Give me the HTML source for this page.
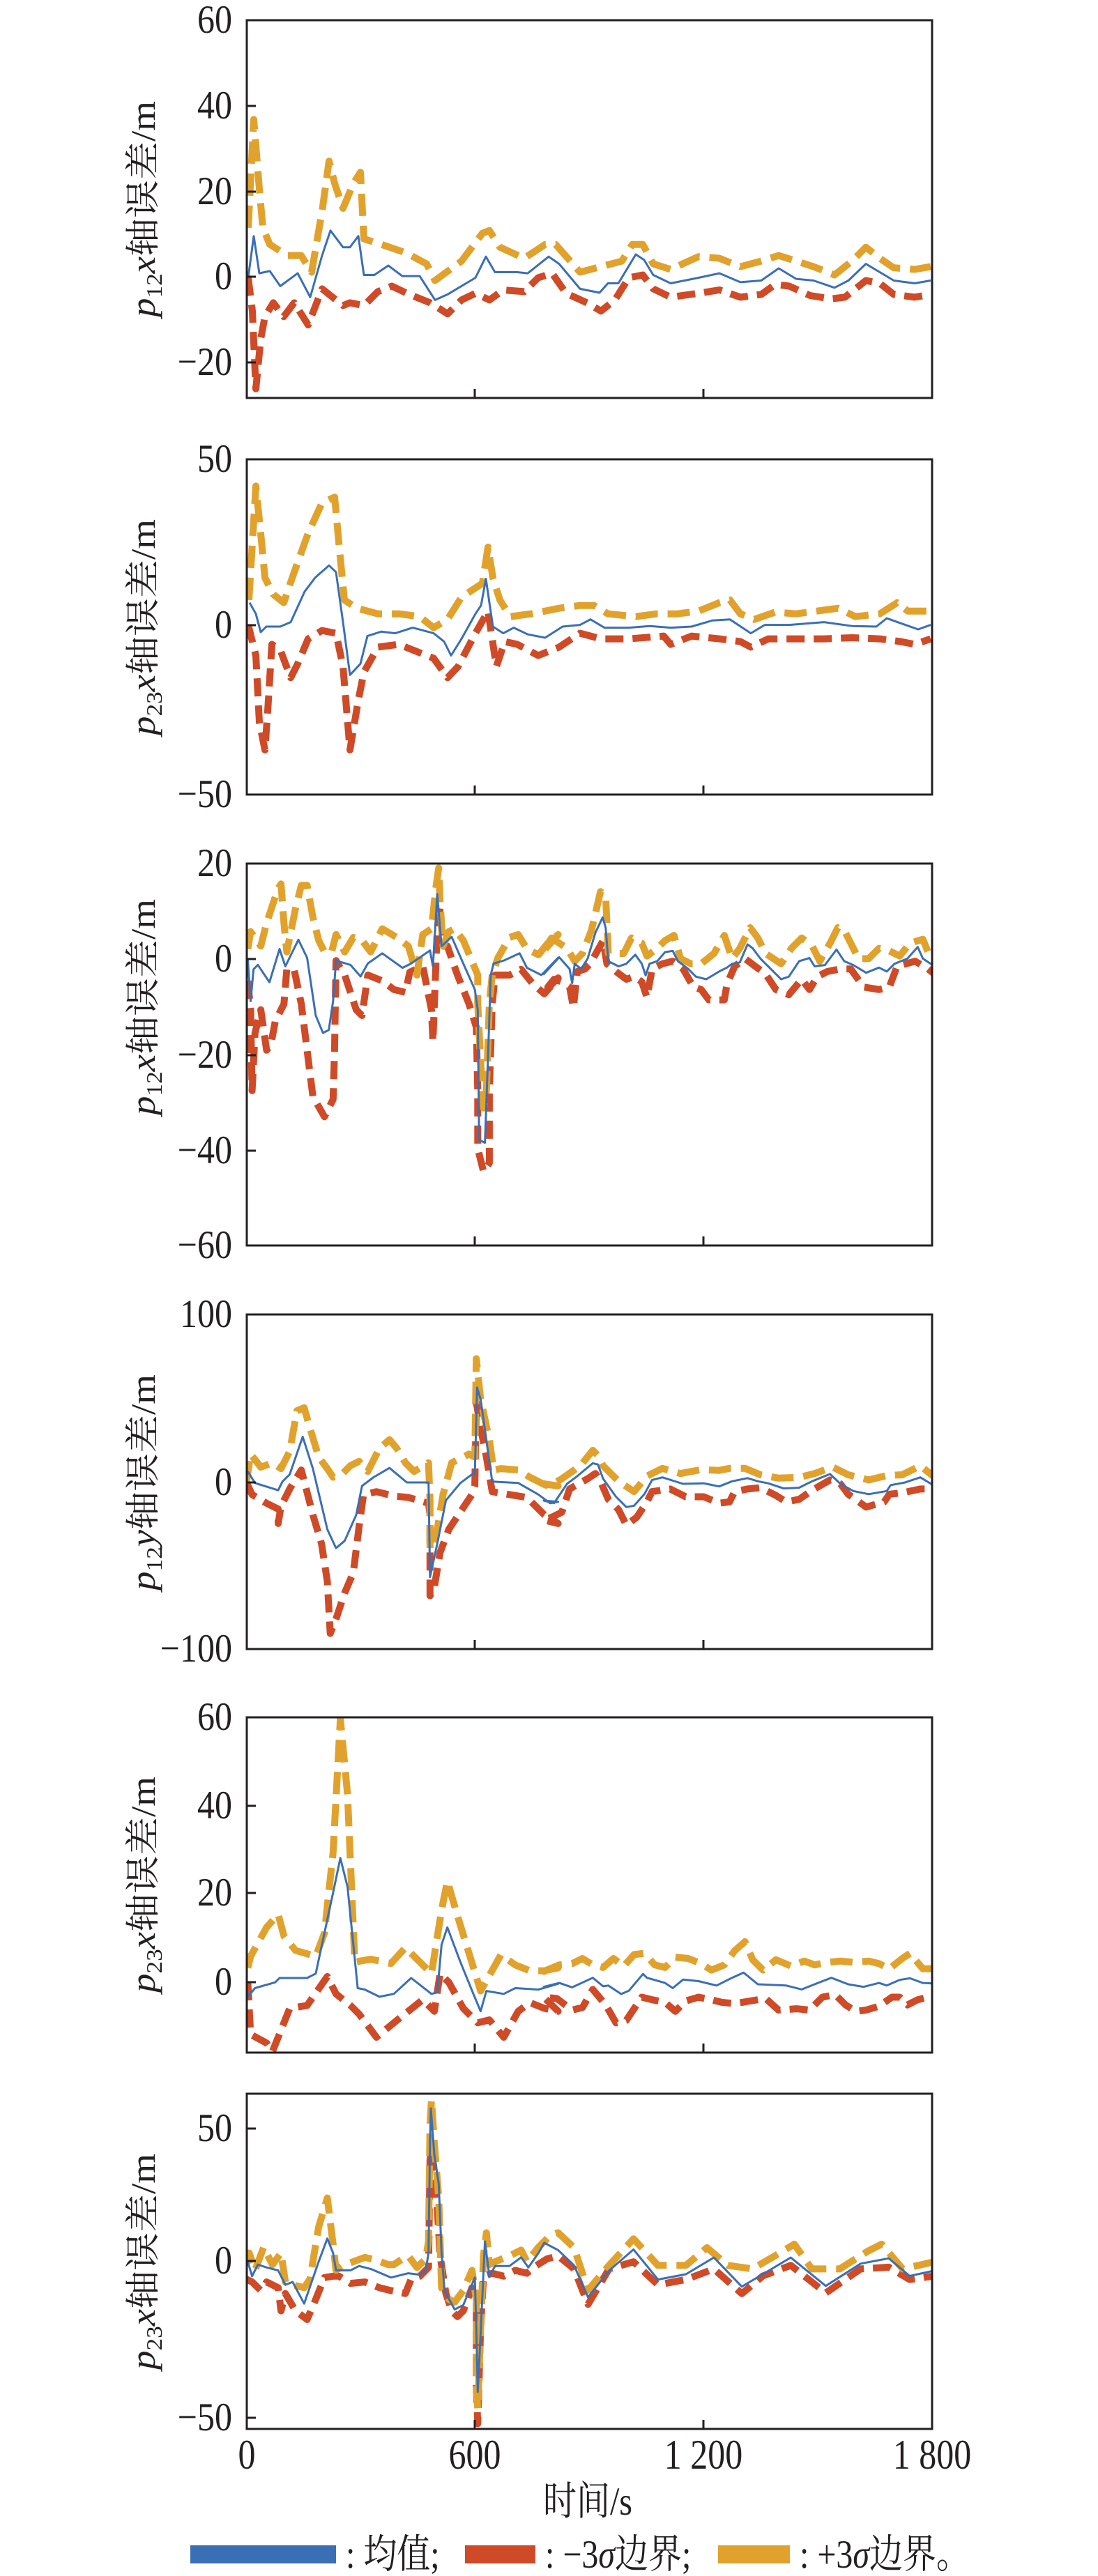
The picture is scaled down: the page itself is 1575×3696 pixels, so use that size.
<!DOCTYPE html>
<html><head><meta charset="utf-8">
<style>
html,body{margin:0;padding:0;background:#fff;}
svg{display:block;}
text{font-family:"Liberation Serif","Noto Serif CJK SC","Noto Sans CJK SC",serif;fill:#231f20;}
</style></head>
<body>
<svg id="s" width="1575" height="3696" viewBox="0 0 1575 3696" xmlns="http://www.w3.org/2000/svg"></svg>
<script>
const NS="http://www.w3.org/2000/svg";
const svg=document.getElementById('s');
function el(tag,attrs,txt){const e=document.createElementNS(NS,tag);for(const k in attrs)e.setAttribute(k,attrs[k]);if(txt!==undefined)e.textContent=txt;svg.appendChild(e);return e;}
const L=354,R=1337;
const panels=[
 {t:29,b:571,ticks:[[60,29,0],[40,152,1],[20,275,1],[0,397,1],['−20',520,1]],lab:["12","x"],ly:300},
 {t:659,b:1140,ticks:[[50,659,0],[0,897,1],['−50',1140,0]],lab:["23","x"],ly:900},
 {t:1239,b:1787,ticks:[[20,1239,0],[0,1376,1],['−20',1514,1],['−40',1651,1],['−60',1787,0]],lab:["12","x"],ly:1445},
 {t:1886,b:2366,ticks:[[100,1886,0],[0,2127,1],['−100',2366,0]],lab:["12","y"],ly:2127},
 {t:2464,b:2945,ticks:[[60,2464,0],[40,2591,1],[20,2716,1],[0,2844,1]],lab:["23","x"],ly:2704},
 {t:3004,b:3485,ticks:[[50,3054,1],[0,3244,1],['−50',3469,1]],lab:["23","x"],ly:3245}
];
const Z1=p=>[p[0]+2,p[1]*0.797];
const ZS=(x0,y0,s)=>p=>[x0+p[0]/s,y0+p[1]/s];
const Z5=ZS(150,1150,2.41),Z6=ZS(150,1800,2.41),Z7=ZS(150,2450,2.41),Z8=ZS(150,3050,2.41);
const Z9=ZS(780,1220,2.703),Z10=ZS(780,1870,2.703),Z11=ZS(780,2440,2.703);
const Z2=p=>[354+(p[0]-352)*1.003,2900+p[1]*0.5077];
function P(s){return s.trim().split(/\)\s*,?\s*\(/).map(q=>q.replace(/[()]/g,'').split(',').map(Number));}
function mk(parts){let out=[];parts.forEach(([f,s])=>{P(s).forEach(p=>out.push(f(p)));});return out;}
const data=[
 {blue:mk([[Z1,"(354,500),(362,425),(370,492),(385,488),(400,515),(425,492),(443,535),(460,460),(472,415),(490,445),(500,445),(512,425),(520,495),(535,495),(555,478),(575,497),(600,497),(622,540),(640,530),(680,500),(695,462),(708,490),(740,490),(755,492),(785,462),(800,475),(830,520),(858,527),(870,510),(885,510),(910,458),(922,468),(935,495),(960,510),(1000,500),(1030,492),(1060,508),(1090,505),(1115,483),(1140,502),(1165,505),(1195,518),(1215,505),(1240,475),(1260,490),(1280,505),(1310,510),(1333,505)"]]),
  yel:mk([[Z1,"(354,410),(362,215),(370,340),(375,410),(385,440),(410,460),(430,460),(445,490),(460,380),(470,290),(478,330),(490,375),(505,330),(515,310),(520,430),(545,440),(580,455),(610,475),(622,505),(660,470),(690,420),(700,415),(715,445),(750,465),(780,440),(795,440),(830,490),(860,480),(890,470),(905,440),(920,440),(935,475),(960,485),(1000,462),(1030,465),(1060,480),(1090,470),(1115,460),(1140,470),(1165,480),(1195,495),(1220,470),(1240,445),(1260,465),(1280,482),(1310,485),(1333,480)"]]),
  red:mk([[Z1,"(354,500),(360,560),(365,700),(372,610),(378,570),(390,545),(405,570),(420,545),(440,585),(460,520),(470,530),(490,550),(500,545),(520,550),(540,525),(560,515),(585,530),(615,545),(640,565),(660,540),(680,528),(700,540),(720,522),(750,525),(770,500),(790,492),(810,528),(840,545),(860,560),(880,540),(900,500),(920,495),(935,520),(960,535),(1000,528),(1030,522),(1060,535),(1090,530),(1110,512),(1130,515),(1160,532),(1190,538),(1210,535),(1240,505),(1260,510),(1280,530),(1310,535),(1333,530)"]])},
 {blue:mk([[Z1,"(356,1085),(365,1105),(372,1138),(380,1128),(400,1128),(415,1120),(435,1065),(450,1040),(470,1018),(480,1030),(490,1120),(500,1215),(515,1195),(525,1145),(545,1137),(565,1140),(590,1130),(620,1140),(635,1155),(645,1180),(660,1150),(680,1105),(688,1090),(695,1042),(705,1128),(720,1140),(735,1130),(755,1142),(780,1148),(805,1128),(830,1125),(845,1115),(865,1130),(900,1130),(930,1127),(960,1130),(990,1128),(1020,1117),(1045,1115),(1075,1140),(1095,1125),(1130,1125),(1180,1120),(1220,1127),(1255,1128),(1270,1113),(1290,1122),(1315,1133),(1333,1125)"]]),
  yel:mk([[Z1,"(355,1080),(365,875),(372,960),(378,1040),(390,1070),(405,1085),(420,1030),(440,960),(460,905),(478,895),(485,990),(492,1080),(510,1095),(540,1105),(570,1105),(600,1110),(620,1130),(640,1115),(660,1075),(690,1050),(698,985),(705,1040),(715,1080),(730,1110),(760,1105),(800,1095),(830,1090),(850,1090),(870,1105),(910,1110),(940,1105),(970,1105),(1000,1100),(1030,1085),(1045,1080),(1060,1105),(1080,1115),(1110,1102),(1140,1105),(1170,1100),(1200,1095),(1225,1110),(1260,1105),(1285,1085),(1300,1100),(1333,1100)"]]),
  red:mk([[Z1,"(354,1125),(365,1180),(370,1300),(378,1350),(382,1280),(388,1160),(400,1170),(415,1220),(425,1195),(440,1150),(460,1135),(480,1140),(490,1200),(500,1350),(512,1260),(520,1210),(540,1165),(570,1160),(600,1175),(620,1185),(640,1220),(655,1200),(680,1140),(698,1100),(710,1200),(722,1155),(740,1160),(770,1180),(800,1165),(830,1140),(860,1150),(900,1150),(950,1145),(960,1160),(990,1145),(1030,1150),(1060,1155),(1075,1165),(1100,1150),(1140,1150),(1180,1150),(1220,1148),(1260,1150),(1290,1155),(1310,1160),(1333,1150)"]])},
 {blue:mk([[Z5,"(495,545),(505,690),(515,580),(530,565),(570,625),(605,510),(625,570),(670,478),(700,540),(730,740),(755,800),(775,790),(790,690),(800,550),(850,565),(885,605),(910,560),(960,525),(1030,575),(1060,560),(1125,515),(1135,570),(1150,320),(1165,500),(1200,468),(1240,560),(1280,650),(1290,720),(1295,1170),(1315,1180),(1325,900),(1335,600),(1345,560),(1380,550),(1435,525),(1460,575),(1510,600),(1568,540)"],[Z9,"(0,480),(60,415),(100,460),(110,515),(120,440),(145,460),(170,420),(200,320),(228,260),(240,300),(250,430),(290,450),(320,440),(355,405),(380,440),(395,485),(410,440),(440,430),(470,395),(500,390),(520,430),(560,460),(590,490),(630,500),(680,470),(710,455),(730,440),(760,435),(790,365),(810,380),(840,420),(880,460),(920,500),(950,490),(990,430),(1030,418),(1050,450),(1090,445),(1135,385),(1165,430),(1200,445),(1250,475),(1300,455),(1330,470),(1360,440),(1410,420),(1450,375),(1470,420),(1515,450)"]]),
  yel:mk([[Z5,"(495,510),(505,450),(540,500),(560,420),(600,300),(610,285),(620,420),(630,520),(660,370),(680,290),(700,290),(720,400),(740,480),(760,520),(785,520),(800,460),(830,520),(860,470),(890,480),(920,520),(960,440),(1010,470),(1050,500),(1080,600),(1100,460),(1130,440),(1145,300),(1155,230),(1160,350),(1170,500),(1190,450),(1210,440),(1240,480),(1290,600),(1290,700),(1300,900),(1310,1060),(1320,1000),(1330,700),(1340,600),(1360,540),(1400,470),(1430,460),(1460,510),(1500,530),(1540,480),(1568,460)"],[Z9,"(0,390),(30,340),(60,360),(90,380),(120,430),(150,400),(185,310),(220,160),(240,180),(250,400),(310,400),(340,340),(380,360),(400,410),(440,380),(470,350),(505,330),(530,420),(570,440),(610,440),(660,400),(700,330),(730,420),(760,380),(800,300),(830,340),(860,400),(920,440),(960,380),(1000,340),(1040,370),(1070,430),(1110,360),(1140,300),(1170,320),(1220,420),(1260,420),(1300,380),(1340,390),(1380,410),(1420,360),(1470,345),(1500,420),(1515,420)"]]),
  red:mk([[Z5,"(495,620),(505,720),(510,1000),(520,800),(540,720),(560,860),(575,840),(590,760),(620,700),(630,580),(655,580),(680,700),(700,860),(720,1020),(760,1090),(790,1030),(795,860),(800,550),(830,600),(870,720),(890,740),(910,600),(960,620),(1000,650),(1040,660),(1055,590),(1100,570),(1130,720),(1135,830),(1150,440),(1160,370),(1170,500),(1185,500),(1220,600),(1260,700),(1285,780),(1290,1000),(1290,1200),(1310,1280),(1330,1250),(1330,1000),(1340,700),(1350,600),(1400,600),(1440,580),(1480,630),(1520,665),(1568,610)"],[Z9,"(0,550),(40,500),(70,510),(100,530),(115,610),(130,470),(160,460),(180,440),(230,350),(245,440),(280,470),(320,500),(350,490),(380,510),(400,570),(420,460),(460,440),(500,430),(540,460),(580,530),(610,540),(640,580),(700,580),(710,520),(740,450),(780,420),(820,450),(860,480),(900,540),(950,560),(1000,500),(1030,540),(1060,490),(1100,470),(1150,460),(1190,460),(1240,530),(1300,540),(1340,530),(1370,450),(1440,430),(1490,460),(1515,480)"]])},
 {blue:mk([[Z6,"(495,750),(520,790),(600,815),(615,785),(640,760),(685,630),(720,740),(770,950),(800,1015),(830,990),(870,900),(890,800),(930,770),(985,738),(1045,788),(1120,788),(1125,1115),(1150,1000),(1180,850),(1230,790),(1270,760),(1280,760),(1288,460),(1300,500),(1340,785),(1430,790),(1500,830),(1540,860),(1568,855)"],[Z10,"(0,765),(40,775),(90,700),(130,670),(190,620),(210,625),(230,680),(280,750),(320,790),(350,785),(390,740),(420,685),(460,675),(540,700),(620,698),(680,710),(730,690),(790,678),(830,690),(870,698),(930,718),(990,715),(1040,690),(1110,662),(1150,700),(1200,728),(1260,740),(1330,728),(1345,705),(1400,695),(1460,675),(1510,705)"]]),
  yel:mk([[Z6,"(490,790),(505,690),(540,735),(580,720),(610,740),(640,680),(665,540),(690,530),(710,600),(740,700),(770,740),(790,770),(820,760),(850,730),(880,715),(910,750),(950,670),(985,640),(1010,670),(1040,720),(1070,750),(1120,720),(1125,850),(1125,1020),(1150,950),(1170,830),(1200,720),(1260,690),(1280,700),(1285,360),(1300,500),(1330,640),(1345,745),(1370,740),(1430,745),(1470,770),(1530,800),(1568,800)"],[Z10,"(0,700),(20,710),(70,680),(120,645),(150,620),(190,570),(210,590),(230,630),(290,690),(350,730),(400,670),(460,640),(530,660),(610,645),(680,648),(720,640),(780,640),(840,665),(910,678),(990,675),(1050,660),(1120,635),(1180,665),(1260,685),(1330,668),(1390,665),(1460,630),(1510,670)"]]),
  red:mk([[Z6,"(490,787),(510,830),(560,860),(600,880),(600,930),(610,870),(640,810),(680,745),(720,900),(750,1000),(770,1130),(780,1310),(800,1260),(830,1170),(860,1100),(880,940),(895,830),(940,820),(1000,835),(1050,840),(1120,860),(1125,900),(1125,1180),(1140,1150),(1160,1030),(1190,950),(1230,890),(1270,830),(1280,800),(1285,510),(1300,600),(1320,700),(1340,820),(1400,830),(1460,840),(1520,900),(1568,930)"],[Z10,"(0,840),(30,830),(70,810),(100,720),(170,680),(200,660),(220,690),(250,760),(290,800),(320,860),(360,830),(400,770),(420,730),(490,720),(550,750),(620,750),(680,775),(720,770),(740,730),(790,720),(840,715),(900,745),(940,770),(990,760),(1040,725),(1110,685),(1150,700),(1180,740),(1250,790),(1320,770),(1340,740),(1390,735),(1460,720),(1510,720)"]])},
 {blue:mk([[Z7,"(495,1000),(520,970),(590,950),(605,935),(700,935),(730,920),(790,640),(815,520),(840,620),(875,970),(900,975),(950,1000),(1000,990),(1060,935),(1130,990),(1150,985),(1165,820),(1185,760),(1230,880),(1275,990),(1300,1050),(1320,980),(1380,990),(1420,970),(1500,975),(1568,955)"],[Z11,"(0,1110),(60,1095),(110,1112),(190,1075),(230,1108),(250,1105),(300,1138),(330,1125),(385,1060),(400,1075),(470,1095),(500,1115),(540,1082),(600,1088),(670,1105),(730,1075),(775,1055),(830,1100),(940,1105),(1000,1120),(1050,1100),(1115,1075),(1180,1100),(1240,1110),(1300,1095),(1330,1105),(1380,1083),(1420,1077),(1470,1095),(1510,1097)"]]),
  yel:mk([[Z7,"(495,900),(505,860),(560,760),(600,715),(620,790),(660,840),(730,860),(760,780),(790,500),(815,40),(840,300),(865,880),(920,870),(990,885),(1040,830),(1090,880),(1130,920),(1165,700),(1185,600),(1220,720),(1260,850),(1300,980),(1370,855),(1420,890),(1470,910),(1520,910),(1568,900)"],[Z11,"(0,1050),(60,1025),(110,1020),(150,1000),(190,1025),(230,1035),(270,1000),(310,1030),(350,985),(390,980),(430,1025),(470,1035),(510,995),(560,1000),(610,1020),(650,1045),(700,1025),(740,970),(780,935),(810,1005),(850,1045),(900,1005),(960,1030),(1010,1010),(1050,1025),(1100,1015),(1150,1010),(1200,1015),(1260,1010),(1300,1020),(1340,1040),(1390,1000),(1420,980),(1470,1040),(1510,1040)"]]),
  red:mk([[Z7,"(495,950),(505,1130),(560,1160),(580,1190),(640,1040),(700,1030),(770,930),(800,990),(850,1030),(880,1060),(940,1140),(1000,1090),(1100,1010),(1140,1050),(1160,920),(1190,950),(1240,1040),(1290,1090),(1330,1080),(1380,1140),(1430,1050),(1470,1020),(1520,1040),(1568,1050)"],[Z11,"(0,1150),(50,1155),(110,1200),(150,1190),(190,1120),(240,1180),(280,1250),(320,1240),(350,1195),(380,1150),(420,1160),(470,1170),(510,1205),(550,1165),(600,1150),(650,1160),(690,1170),(740,1175),(800,1165),(860,1155),(910,1200),(980,1195),(1030,1200),(1080,1150),(1130,1140),(1170,1180),(1210,1205),(1250,1200),(1300,1185),(1350,1150),(1380,1150),(1410,1180),(1450,1160),(1510,1145)"]])},
 {blue:mk([[Z8,"(495,470),(510,520),(530,480),(560,490),(600,500),(625,550),(650,540),(690,615),(740,470),(770,390),(790,440),(800,500),(850,500),(880,485),(920,495),(990,525),(1050,510),(1090,515),(1110,500),(1120,440),(1125,60),(1128,-60),(1140,100),(1155,200),(1165,440),(1175,570),(1210,635),(1240,620),(1280,525),(1285,700),(1290,920),(1300,720),(1315,400),(1330,520),(1350,485),(1400,485),(1440,455),(1465,490),(1500,440),(1520,405),(1568,430)"],[Z2,"(820,690),(840,780),(870,705),(905,645),(940,730),(980,715),(1020,668),(1060,750),(1090,715),(1130,668),(1180,748),(1230,685),(1270,670),(1300,720),(1335,705)"]]),
  yel:mk([[Z8,"(490,480),(500,440),(520,500),(550,420),(580,480),(610,440),(625,540),(650,550),(690,560),(710,530),(740,350),(770,250),(790,410),(800,500),(830,480),(860,470),(900,455),(940,465),(980,480),(1000,480),(1030,460),(1050,450),(1080,490),(1110,460),(1120,400),(1125,0),(1130,-90),(1140,60),(1155,250),(1160,400),(1165,560),(1190,600),(1210,610),(1240,570),(1270,500),(1285,600),(1285,900),(1290,980),(1300,700),(1310,450),(1320,370),(1330,480),(1350,470),(1400,450),(1440,430),(1460,470),(1500,420),(1540,380),(1568,370)"],[Z2,"(820,640),(840,760),(870,690),(905,615),(940,690),(980,690),(1010,640),(1040,690),(1075,700),(1110,660),(1135,630),(1160,700),(1200,700),(1240,650),(1260,630),(1290,700),(1335,680)"]]),
  red:mk([[Z8,"(490,530),(510,540),(540,570),(560,540),(600,560),(610,640),(625,580),(660,640),(700,670),(730,600),(760,525),(790,520),(810,520),(850,545),(900,540),(950,560),(990,570),(1040,580),(1060,530),(1090,520),(1120,490),(1125,120),(1130,80),(1145,200),(1160,450),(1180,580),(1200,640),(1220,660),(1240,640),(1270,560),(1285,600),(1285,900),(1290,1030),(1300,700),(1310,520),(1340,510),(1380,520),(1420,500),(1460,510),(1490,485),(1530,460),(1568,450)"],[Z2,"(820,700),(840,800),(870,700),(905,680),(940,745),(980,730),(1020,700),(1060,770),(1090,720),(1130,690),(1180,768),(1230,700),(1270,695),(1300,730),(1335,720)"]])}
];
const BLUE="#3a6fb5",RED="#cf4a27",YEL="#e1a22d";
function path(pts){return pts.map((p,i)=>(i?'L':'M')+p[0].toFixed(1)+' '+p[1].toFixed(1)).join(' ');}
panels.forEach((pn,i)=>{
  const id='c'+i;
  const cp=el('clipPath',{id:id});
  const r=document.createElementNS(NS,'rect');
  r.setAttribute('x',L);r.setAttribute('y',pn.t);r.setAttribute('width',R-L);r.setAttribute('height',pn.b-pn.t);cp.appendChild(r);
  const d=data[i];
  el('path',{d:path(d.red),fill:'none',stroke:RED,'stroke-width':10,'stroke-dasharray':'26 13','clip-path':`url(#${id})`,'stroke-linejoin':'round'});
  el('path',{d:path(d.yel),fill:'none',stroke:YEL,'stroke-width':10,'stroke-dasharray':'32 14','clip-path':`url(#${id})`,'stroke-linejoin':'round'});
  el('path',{d:path(d.blue),fill:'none',stroke:BLUE,'stroke-width':3,'clip-path':`url(#${id})`,'stroke-linejoin':'round'});
  el('rect',{x:L,y:pn.t,width:R-L,height:pn.b-pn.t,fill:'none',stroke:'#231f20','stroke-width':3});
  [681,1009].forEach(x=>el('line',{x1:x,x2:x,y1:pn.b,y2:pn.b-13,stroke:'#231f20','stroke-width':3}));
  pn.ticks.forEach(([v,y,tk])=>{
    if(tk)el('line',{x1:L,x2:L+13,y1:y,y2:y,stroke:'#231f20','stroke-width':3});
    el('text',{x:333,y:y+18,'text-anchor':'end','font-size':50,transform:`translate(0 ${-(y+18)*0.15}) scale(1 1.15)`},String(v));
  });
  const g=el('text',{transform:`translate(222 ${pn.ly}) rotate(-90)`,'text-anchor':'middle','font-size':50,textLength:310,lengthAdjust:'spacingAndGlyphs'});
  g.innerHTML=`<tspan font-style="italic">p</tspan><tspan font-size="32" dy="10">${pn.lab[0]}</tspan><tspan dy="-10" font-style="italic">${pn.lab[1]}</tspan>轴误差/m`;
});
function st(x,y,fs,html,anchor){const t=el('text',{x:x,y:y,'font-size':fs,'text-anchor':anchor||'start',transform:`translate(0 ${-y*0.2}) scale(1 1.2)`});t.innerHTML=html;return t;}
[[354,"0"],[681,"600"],[1009,"1 200"],[1337,"1 800"]].forEach(([x,t])=>st(x,3542,50,t,'middle'));
st(843,3608,48,'时间/s','middle');
el('rect',{x:273,y:3652,width:209,height:26,fill:BLUE});
el('rect',{x:667,y:3652,width:101,height:26,fill:RED});
el('rect',{x:1030,y:3652,width:103,height:26,fill:YEL});
st(496,3684,48,': 均值;');
st(782,3684,48,': −3<tspan font-style="italic">σ</tspan>边界;');
st(1147,3684,48,': +3<tspan font-style="italic">σ</tspan>边界。');
</script>
</body></html>
